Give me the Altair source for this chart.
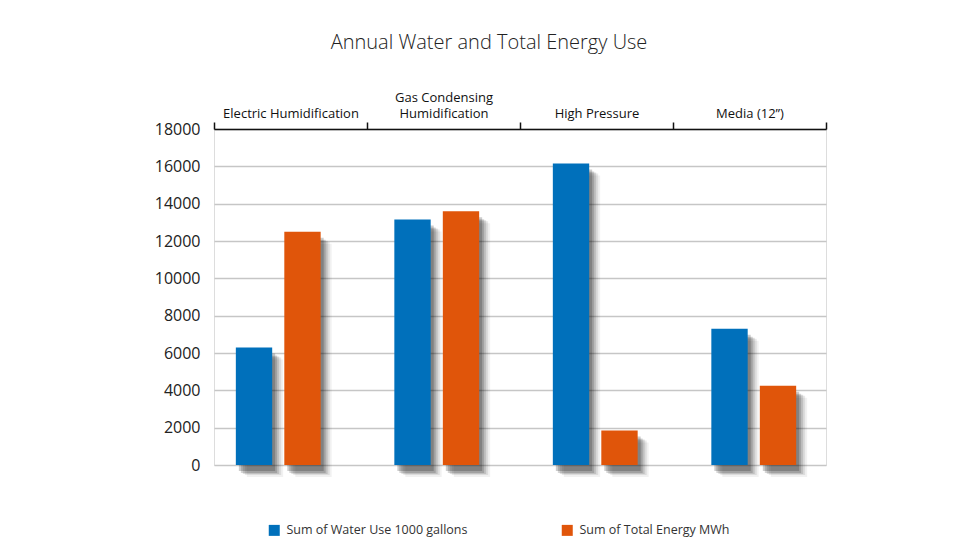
import altair as alt
import pandas as pd

categories = ["Electric Humidification", "Gas Condensing\nHumidification", "High Pressure", "Media (12\u201d)"]
series = ["Sum of Water Use 1000 gallons", "Sum of Total Energy MWh"]
water = [6300, 13150, 16150, 7300]
energy = [12500, 13600, 1850, 4250]
y_ticks = [0, 2000, 4000, 6000, 8000, 10000, 12000, 14000, 16000, 18000]
colors = ["#0070bb", "#e0550a"]

rows = []
for c, w, e in zip(categories, water, energy):
    rows.append({"category": c, "series": series[0], "value": w})
    rows.append({"category": c, "series": series[1], "value": e})
df = pd.DataFrame(rows)

FONT = "Open Sans"
W, H = 612, 336
BAR_RANGE = (-15, 619)
y_scale = alt.Scale(domain=[0, 18000], nice=False)

y_axis = alt.Y("value:Q", scale=y_scale,
               axis=alt.Axis(values=y_ticks, format="d", title=None, domain=False, ticks=False,
                             labelFontSize=16, labelFont=FONT, labelColor="#222",
                             labelPadding=14, grid=True, gridColor="#c6c6c6", gridWidth=1.3))


def x_bar(shift=0):
    return alt.X("category:N", sort=categories,
                 scale=alt.Scale(range=[BAR_RANGE[0] + shift, BAR_RANGE[1] + shift],
                                 paddingInner=0, paddingOuter=0),
                 axis=None)


xoff = alt.XOffset("series:N", sort=series,
                   scale=alt.Scale(paddingInner=0.25, paddingOuter=0.76))

axis_layer = alt.Chart(df).mark_tick(opacity=0).encode(
    x=alt.X("category:N", sort=categories,
            scale=alt.Scale(paddingInner=0, paddingOuter=0),
            axis=alt.Axis(orient="top", title=None, domain=True, domainColor="#111",
                          domainWidth=1.5, ticks=True, tickColor="#111", tickWidth=1.5,
                          tickSize=7, tickBand="extent", labelAngle=0,
                          labelFont=FONT, labelFontSize=13, labelColor="#111",
                          labelPadding=18,
                          labelExpr="indexof(datum.label, '\\n') >= 0 ? split(datum.label, '\\n') : ['', datum.label]",
                          labelLineHeight=16.5, grid=False)),
    y=y_axis,
)

shadow_specs = [(3, 6, 0.2), (5, 8, 0.16), (7, 9, 0.12), (9, 10, 0.085), (11, 12, 0.055)]
shadows = [
    alt.Chart(df).mark_bar(color="#000000", opacity=op, yOffset=dy).encode(
        x=x_bar(dx), xOffset=xoff, y=y_axis)
    for dx, dy, op in shadow_specs
]

bars = alt.Chart(df).mark_bar().encode(
    x=x_bar(0), xOffset=xoff, y=y_axis,
    color=alt.Color("series:N", sort=series,
                    scale=alt.Scale(domain=series, range=colors),
                    legend=alt.Legend(title=None, orient="none", direction="horizontal",
                                      legendX=54, legendY=395, symbolType="square",
                                      symbolSize=121, symbolStrokeWidth=0, symbolOpacity=1,
                                      labelFont=FONT, labelFontSize=12.5, labelColor="#333",
                                      labelLimit=400, labelOffset=6, columnPadding=93,
                                      padding=0)),
)

chart = alt.layer(axis_layer, *shadows, bars).resolve_scale(x="independent").properties(
    width=W, height=H,
    title=alt.TitleParams("Annual Water and Total Energy Use", font=FONT, fontSize=20,
                          fontWeight=300, color="#222", anchor="middle", dx=-31,
                          frame="group", offset=38),
    autosize=alt.AutoSizeParams(type="none"),
    padding={"left": 206, "top": 121, "right": 146, "bottom": 87},
).configure_view(strokeWidth=0, stroke="transparent").configure(background="white")

chart.save("out.html", embed_options={"renderer": "svg", "actions": False})
